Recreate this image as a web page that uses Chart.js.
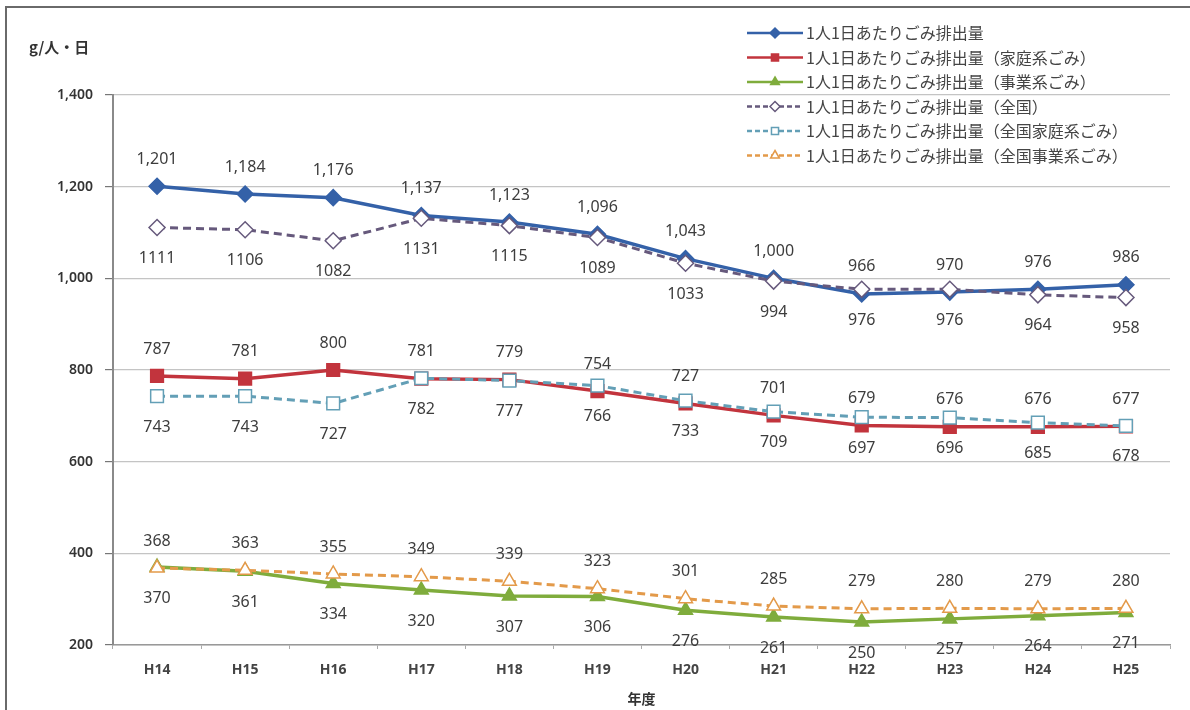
<!DOCTYPE html>
<html lang="ja">
<head>
<meta charset="utf-8">
<title>1人1日あたりごみ排出量の推移</title>
<script src="https://cdn.jsdelivr.net/npm/chart.js@4"></script>
<style>
html, body { margin: 0; padding: 0; background: #fff; }
#wrap { width: 1190px; height: 710px; position: relative; }
</style>
</head>
<body>
<div id="wrap"><canvas id="gomi-chart" width="1190" height="710"></canvas></div>
<script>
// 年度
const years = ['H14', 'H15', 'H16', 'H17', 'H18', 'H19', 'H20', 'H21', 'H22', 'H23', 'H24', 'H25'];

// 1人1日あたりごみ排出量 (g/人・日)
const perCapita      = [1201, 1184, 1176, 1137, 1123, 1096, 1043, 1000, 966, 970, 976, 986];
const perCapitaHome  = [787, 781, 800, 781, 779, 754, 727, 701, 679, 676, 676, 677];
const perCapitaBiz   = [370, 361, 334, 320, 307, 306, 276, 261, 250, 257, 264, 271];
// 全国
const nationTotal    = [1111, 1106, 1082, 1131, 1115, 1089, 1033, 994, 976, 976, 964, 958];
const nationHome     = [743, 743, 727, 782, 777, 766, 733, 709, 697, 696, 685, 678];
const nationBiz      = [368, 363, 355, 349, 339, 323, 301, 285, 279, 280, 279, 280];

const yTicks = { min: 200, max: 1400, step: 200 };

const NUM_FONT = '"Noto Sans", "DejaVu Sans", sans-serif';
const JP_FONT = '"Noto Sans CJK JP", "Noto Sans", sans-serif';

function series(label, data, color, opts) {
  return Object.assign({
    label: label,
    data: data,
    borderColor: color,
    backgroundColor: color,
    pointBackgroundColor: color,
    pointBorderColor: color,
    borderWidth: 3.5,
    pointBorderWidth: 1.5,
    tension: 0,
    fill: false
  }, opts);
}

const datasets = [
  series('1人1日あたりごみ排出量', perCapita, '#3461a8',
    { pointStyle: 'rectRot', pointRadius: 8, labelPos: 'above', comma: true, order: 1 }),
  series('1人1日あたりごみ排出量（家庭系ごみ）', perCapitaHome, '#c2343d',
    { pointStyle: 'rect', pointRadius: 9, labelPos: 'above', order: 1 }),
  series('1人1日あたりごみ排出量（事業系ごみ）', perCapitaBiz, '#7fac3c',
    { pointStyle: 'triangle', pointRadius: 8, labelPos: 'below', order: 1 }),
  series('1人1日あたりごみ排出量（全国）', nationTotal, '#66597c',
    { pointStyle: 'rectRot', pointRadius: 8, pointBackgroundColor: '#fff', borderDash: [8, 5], borderWidth: 3, labelPos: 'below', order: 0 }),
  series('1人1日あたりごみ排出量（全国家庭系ごみ）', nationHome, '#639fb6',
    { pointStyle: 'rect', pointRadius: 9, pointBackgroundColor: '#fff', borderDash: [8, 5], borderWidth: 3, labelPos: 'below', order: 0 }),
  series('1人1日あたりごみ排出量（全国事業系ごみ）', nationBiz, '#e39a4a',
    { pointStyle: 'triangle', pointRadius: 8, pointBackgroundColor: '#fff', borderDash: [8, 5], borderWidth: 3, labelPos: 'above', order: 0 })
];

// white page + the outer frame lines
const frame = {
  id: 'frame',
  beforeDraw(chart) {
    const ctx = chart.ctx;
    ctx.save();
    ctx.fillStyle = '#fff';
    ctx.fillRect(0, 0, chart.width, chart.height);
    ctx.strokeStyle = '#6a6a6a';
    ctx.lineWidth = 2;
    ctx.beginPath();
    ctx.moveTo(6, chart.height);
    ctx.lineTo(6, 7);
    ctx.lineTo(chart.width, 7);
    ctx.stroke();
    ctx.restore();
  }
};

// value labels above / below each point
const valueLabels = {
  id: 'valueLabels',
  afterDatasetsDraw(chart) {
    const ctx = chart.ctx;
    ctx.save();
    ctx.font = '16px ' + NUM_FONT;
    ctx.fillStyle = '#3d3d3d';
    ctx.textAlign = 'center';
    ctx.textBaseline = 'middle';
    chart.data.datasets.forEach((ds, i) => {
      const meta = chart.getDatasetMeta(i);
      meta.data.forEach((pt, j) => {
        const v = ds.data[j];
        const txt = ds.comma ? v.toLocaleString('en-US') : String(v);
        const dy = ds.labelPos === 'above' ? -27 : 31;
        ctx.fillText(txt, pt.x, pt.y + dy);
      });
    });
    ctx.restore();
  }
};

function drawMarker(ctx, style, x, y, r) {
  ctx.beginPath();
  if (style === 'rectRot') {
    ctx.moveTo(x - r, y); ctx.lineTo(x, y - r); ctx.lineTo(x + r, y); ctx.lineTo(x, y + r);
  } else if (style === 'rect') {
    const s = r * Math.SQRT1_2;
    ctx.rect(x - s, y - s, 2 * s, 2 * s);
  } else {
    ctx.moveTo(x, y - r); ctx.lineTo(x + r * 0.87, y + r * 0.5); ctx.lineTo(x - r * 0.87, y + r * 0.5);
  }
  ctx.closePath();
  ctx.fill();
  ctx.stroke();
}

// legend block (top right) and the unit caption
const legendBox = {
  id: 'legendBox',
  afterDraw(chart) {
    const ctx = chart.ctx;
    ctx.save();
    chart.data.datasets.forEach((ds, i) => {
      const y = 33 + i * 24.5;
      const x0 = 747, x1 = 803;
      ctx.strokeStyle = ds.borderColor;
      ctx.lineWidth = 2.5;
      ctx.setLineDash(ds.borderDash ? [5, 3] : []);
      ctx.beginPath();
      ctx.moveTo(x0, y); ctx.lineTo(x1, y);
      ctx.stroke();
      ctx.setLineDash([]);
      ctx.lineWidth = 1.5;
      ctx.fillStyle = ds.pointBackgroundColor;
      drawMarker(ctx, ds.pointStyle, (x0 + x1) / 2, y, 5);
      ctx.fillStyle = '#444';
      ctx.font = '16px ' + JP_FONT;
      ctx.textAlign = 'left';
      ctx.textBaseline = 'middle';
      ctx.fillText(ds.label, x1 + 3, y);
    });
    ctx.font = 'bold 15px ' + JP_FONT;
    ctx.fillStyle = '#333';
    ctx.textAlign = 'left';
    ctx.textBaseline = 'middle';
    ctx.fillText('g/人・日', 29, 47);
    ctx.restore();
  }
};

new Chart(document.getElementById('gomi-chart'), {
  type: 'line',
  data: { labels: years, datasets: datasets },
  options: {
    responsive: false,
    animation: false,
    locale: 'en-US',
    layout: { padding: { top: 95, right: 20, left: 0, bottom: 0 } },
    plugins: {
      legend: { display: false },
      tooltip: { enabled: false }
    },
    scales: {
      x: {
        offset: true,
        grid: { display: true, drawOnChartArea: false, offset: true, tickLength: 4, color: '#aaa' },
        border: { display: true, color: '#999', width: 1.5 },
        ticks: { padding: 13, color: '#444', font: { family: NUM_FONT, size: 14, weight: 'bold' } },
        title: {
          display: true, text: '年度', color: '#333',
          padding: { top: 0, bottom: 3 },
          font: { family: JP_FONT, size: 14, weight: 'bold' }
        },
        afterFit: (s) => { s.height = 65; }
      },
      y: {
        min: yTicks.min,
        max: yTicks.max,
        ticks: { stepSize: yTicks.step, padding: 12, color: '#333', font: { family: NUM_FONT, size: 14, weight: '600' } },
        grid: { color: '#c4c4c4', lineWidth: 1.2, tickLength: 8, tickColor: '#777' },
        border: { color: '#8a8a8a', width: 2 },
        afterFit: (s) => { s.width = 113; }
      }
    }
  },
  plugins: [frame, valueLabels, legendBox]
});
</script>
</body>
</html>
